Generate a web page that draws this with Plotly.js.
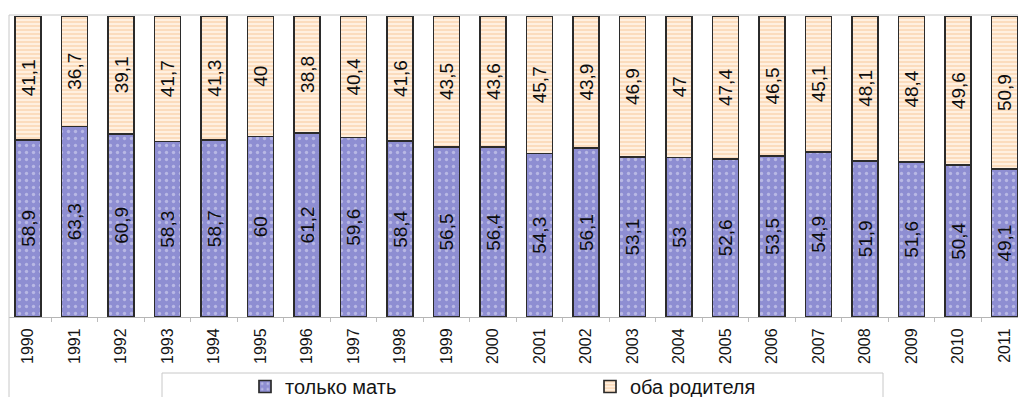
<!DOCTYPE html>
<html>
<head>
<meta charset="utf-8">
<script src="https://cdn.plot.ly/plotly-3.0.1.min.js"></script>
<style>
  html, body { margin: 0; padding: 0; background: #ffffff; }
  #chart { width: 1018px; height: 397px; }
</style>
</head>
<body>
<div id="chart"></div>
<script>
// Годы наблюдения
const years = ['1990','1991','1992','1993','1994','1995','1996','1997','1998','1999','2000',
               '2001','2002','2003','2004','2005','2006','2007','2008','2009','2010','2011'];

// Доля детей, проживающих только с матерью, %
const onlyMother = [58.9, 63.3, 60.9, 58.3, 58.7, 60, 61.2, 59.6, 58.4, 56.5, 56.4,
                    54.3, 56.1, 53.1, 53, 52.6, 53.5, 54.9, 51.9, 51.6, 50.4, 49.1];

// Доля детей, проживающих с обоими родителями, %
const bothParents = [41.1, 36.7, 39.1, 41.7, 41.3, 40, 38.8, 40.4, 41.6, 43.5, 43.6,
                     45.7, 43.9, 46.9, 47, 47.4, 46.5, 45.1, 48.1, 48.4, 49.6, 50.9];

const seriesNames = ['только мать', 'оба родителя'];

const fmt = v => String(v).replace('.', ',');

const W = 1018, H = 397;
const mL = 9, mR = 0, mT = 16, mB = 80;
const plotW = W - mL - mR, plotH = H - mT - mB;
const px2x = p => (p - mL) / plotW;
const px2y = p => (H - mB - p) / plotH;

const FONT = 'Liberation Sans, Arial, sans-serif';
const labelFont = { family: FONT, size: 19, color: '#0d0d0d' };

const traceMother = {
  type: 'bar',
  name: seriesNames[0],
  x: years,
  y: onlyMother,
  text: onlyMother.map(fmt),
  textposition: 'inside',
  insidetextanchor: 'middle',
  textangle: -90,
  constraintext: 'none',
  insidetextfont: labelFont,
  hoverinfo: 'x+y+name',
  marker: {
    color: '#8e8ed2',
    line: { color: '#2b2b2b', width: 1.7 },
    pattern: { shape: '.', fgcolor: '#e2e2f6', bgcolor: '#8e8ed2', size: 7, solidity: 0.18, fillmode: 'overlay' }
  }
};

const traceBoth = {
  type: 'bar',
  name: seriesNames[1],
  x: years,
  y: bothParents,
  text: bothParents.map(fmt),
  textposition: 'inside',
  insidetextanchor: 'middle',
  textangle: -90,
  constraintext: 'none',
  insidetextfont: labelFont,
  hoverinfo: 'x+y+name',
  marker: {
    color: '#fff2e4',
    line: { color: '#2b2b2b', width: 1.7 },
    pattern: { shape: '-', fgcolor: '#f7c596', bgcolor: '#fff2e4', size: 4, solidity: 0.55, fillmode: 'overlay' }
  }
};

const layout = {
  width: W,
  height: H,
  margin: { l: mL, r: mR, t: mT, b: mB, pad: 0, autoexpand: false },
  paper_bgcolor: '#ffffff',
  plot_bgcolor: '#ffffff',
  barmode: 'stack',
  bargap: 0.44,
  showlegend: true,
  xaxis: {
    type: 'category',
    range: [-0.409, 21.29],
    tickson: 'boundaries',
    ticks: 'outside',
    ticklen: 4,
    tickcolor: '#bdbdbd',
    tickangle: -90,
    tickfont: { family: FONT, size: 16, color: '#151515' },
    ticklabelstandoff: 4,
    showline: true,
    linecolor: '#b5b5b5',
    linewidth: 1,
    showgrid: false,
    zeroline: false,
    automargin: false,
    fixedrange: true
  },
  yaxis: {
    range: [0, 100],
    visible: false,
    showgrid: false,
    zeroline: false,
    fixedrange: true
  },
  legend: {
    orientation: 'h',
    x: px2x(245),
    xanchor: 'left',
    y: px2y(367),
    yanchor: 'top',
    bgcolor: 'rgba(0,0,0,0)',
    borderwidth: 0,
    entrywidth: 300,
    entrywidthmode: 'pixels',
    itemwidth: 30,
    traceorder: 'normal',
    font: { family: FONT, size: 20, color: '#151515' }
  },
  shapes: [
    // рамка области диаграммы сверху и слева
    { type: 'line', xref: 'paper', yref: 'paper', x0: 0, x1: 1, y0: px2y(15), y1: px2y(15),
      line: { color: '#c8c8c8', width: 1 } },
    { type: 'line', xref: 'paper', yref: 'paper', x0: 0, x1: 0, y0: px2y(15), y1: px2y(397),
      line: { color: '#c8c8c8', width: 1 } },
    // рамка легенды
    { type: 'rect', xref: 'paper', yref: 'paper', x0: px2x(162), x1: px2x(883), y0: px2y(373), y1: px2y(400),
      line: { color: '#c8c8c8', width: 1 }, fillcolor: 'rgba(0,0,0,0)' }
  ]
};

Plotly.newPlot('chart', [traceMother, traceBoth], layout, { displayModeBar: false, staticPlot: true });
</script>
</body>
</html>
